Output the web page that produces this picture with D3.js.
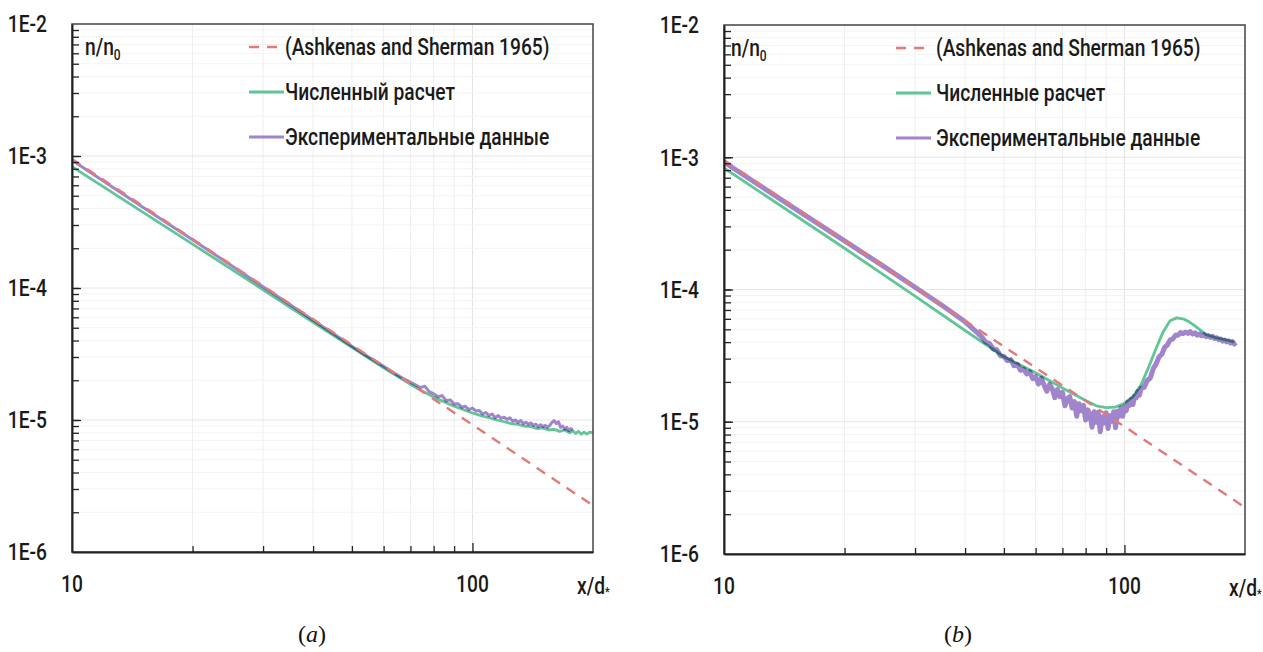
<!DOCTYPE html>
<html>
<head>
<meta charset="utf-8">
<script src="https://cdn.jsdelivr.net/npm/d3@7"></script>
<style>
  body { margin: 0; background: #fff; }
  svg { display: block; }
</style>
</head>
<body>
<svg id="vis_svg" width="1263" height="652"></svg>
<script>
// tick labels
const x_tick_values = [10, 100];
const x_tick_labels = ['10', '100'];
const y_tick_values = [1e-2, 1e-3, 1e-4, 1e-5, 1e-6];
const y_tick_labels = ['1E-2', '1E-3', '1E-4', '1E-5', '1E-6'];

// legends
const legend_a = ['(Ashkenas and Sherman 1965)', 'Численный расчет', 'Экспериментальные данные'];
const legend_b = ['(Ashkenas and Sherman 1965)', 'Численные расчет', 'Экспериментальные данные'];

// Ashkenas & Sherman curve (same in both panels)
const ash_x = [10, 20, 50, 100, 200];
const ash_y = [9.5e-4, 2.35e-4, 3.7e-5, 9.2e-6, 2.25e-6];

// panel (a) numerical
const num_a_x = [10, 20, 30, 40, 50, 60, 70, 80, 90, 100, 105, 110, 115, 120, 125, 130, 135, 140, 145, 150,
  155, 160, 165, 170, 175, 178, 181, 184, 187, 190, 193, 196, 200];
const num_a_y = [8.3e-4, 2.15e-4, 9.7e-5, 5.5e-5, 3.55e-5, 2.48e-5, 1.86e-5, 1.49e-5, 1.27e-5, 1.13e-5, 1.08e-5,
  1.04e-5, 1.0e-5, 9.7e-6, 9.4e-6, 9.25e-6, 9.0e-6, 8.9e-6, 8.6e-6, 8.7e-6, 8.4e-6, 8.5e-6, 8.2e-6, 8.4e-6,
  8.0e-6, 8.3e-6, 7.9e-6, 8.2e-6, 7.8e-6, 8.1e-6, 7.8e-6, 8.1e-6, 8.0e-6];

// panel (a) experiment
const exp_a_x = [10, 15, 20, 25, 30, 35, 40, 45, 50, 55, 60, 64, 68, 72, 74, 76, 78, 80, 82, 84, 86, 88, 90,
  92, 94, 96, 98, 100, 102, 104, 106, 108, 110, 112, 114, 116, 118, 120, 122, 124, 126, 128, 130, 132, 134,
  136, 138, 140, 142, 144, 146, 148, 150, 152, 154, 156, 158, 160, 162, 164, 166, 168, 170, 172, 174, 176, 178];
const exp_a_y = [9.3e-4, 4.1e-4, 2.32e-4, 1.48e-4, 1.02e-4, 7.5e-5, 5.7e-5, 4.5e-5, 3.62e-5, 3.0e-5, 2.55e-5,
  2.25e-5, 2.02e-5, 1.85e-5, 1.76e-5, 1.80e-5, 1.64e-5, 1.58e-5, 1.50e-5, 1.53e-5, 1.40e-5, 1.42e-5, 1.32e-5,
  1.33e-5, 1.25e-5, 1.27e-5, 1.20e-5, 1.23e-5, 1.17e-5, 1.18e-5, 1.11e-5, 1.14e-5, 1.08e-5, 1.11e-5, 1.04e-5,
  1.08e-5, 1.03e-5, 1.05e-5, 1.01e-5, 1.04e-5, 9.8e-6, 1.0e-5, 9.6e-6, 9.9e-6, 9.4e-6, 9.6e-6, 9.3e-6, 9.5e-6,
  9.1e-6, 9.3e-6, 8.9e-6, 9.2e-6, 8.9e-6, 9.1e-6, 8.8e-6, 9.1e-6, 9.6e-6, 9.9e-6, 9.4e-6, 9.7e-6, 8.8e-6,
  9.0e-6, 8.5e-6, 8.8e-6, 8.3e-6, 8.6e-6, 8.4e-6];

// panel (b) numerical
const num_b_x = [10, 20, 30, 40, 50, 60, 70, 80, 85, 90, 95, 100, 105, 110, 115, 120, 125, 130, 135, 140,
  145, 150, 160, 170, 180, 188];
const num_b_y = [8.3e-4, 2.05e-4, 8.9e-5, 4.9e-5, 3.1e-5, 2.35e-5, 1.8e-5, 1.45e-5, 1.32e-5, 1.28e-5, 1.29e-5,
  1.38e-5, 1.55e-5, 1.9e-5, 2.6e-5, 3.6e-5, 4.8e-5, 5.8e-5, 6.1e-5, 6.0e-5, 5.7e-5, 5.3e-5, 4.55e-5, 4.3e-5,
  4.15e-5, 4.0e-5];

// panel (b) experiment
const exp_b_x = [10, 15, 20, 25, 30, 35, 40, 44, 45, 46, 47, 48, 49, 50, 51, 52, 53, 54, 55, 56, 57, 58, 59,
  60, 61, 62, 63, 64, 65, 66, 67, 68, 69, 70, 71, 72, 73, 74, 75, 76, 77, 78, 79, 80, 81, 82, 83, 84, 85, 86,
  87, 88, 89, 90, 91, 92, 93, 94, 95, 96, 97, 98, 99, 100, 101, 102, 103, 104, 105, 106, 107, 108, 109, 110,
  112, 114, 116, 118, 120, 122, 124, 126, 128, 130, 132, 134, 136, 138, 140, 142, 144, 146, 148, 150, 152,
  154, 156, 158, 160, 162, 164, 166, 168, 170, 172, 174, 176, 178, 180, 182, 184, 186, 188, 190];
const exp_b_y = [9.2e-4, 4.1e-4, 2.33e-4, 1.5e-4, 1.04e-4, 7.6e-5, 5.7e-5, 4.4e-5, 4.0e-5, 3.92e-5, 3.55e-5,
  3.5e-5, 3.15e-5, 3.12e-5, 2.9e-5, 2.95e-5, 2.65e-5, 2.72e-5, 2.45e-5, 2.5e-5, 2.3e-5, 2.38e-5, 2.12e-5,
  2.19e-5, 1.93e-5, 2.13e-5, 1.89e-5, 1.70e-5, 1.92e-5, 1.78e-5, 1.52e-5, 1.75e-5, 1.55e-5, 1.67e-5, 1.32e-5,
  1.49e-5, 1.55e-5, 1.27e-5, 1.42e-5, 1.10e-5, 1.37e-5, 1.21e-5, 1.33e-5, 1.03e-5, 1.23e-5, 1.13e-5, 9.1e-6,
  1.19e-5, 9.9e-6, 1.18e-5, 8.4e-6, 1.09e-5, 9.8e-6, 1.17e-5, 8.9e-6, 1.11e-5, 1.01e-5, 1.19e-5, 9.0e-6,
  1.20e-5, 1.10e-5, 1.27e-5, 1.10e-5, 1.30e-5, 1.21e-5, 1.41e-5, 1.33e-5, 1.48e-5, 1.35e-5, 1.56e-5, 1.52e-5,
  1.69e-5, 1.59e-5, 1.79e-5,
  1.82e-5, 2.05e-5, 2.14e-5, 2.52e-5, 2.74e-5, 3.1e-5, 3.24e-5, 3.66e-5, 3.8e-5, 4.16e-5, 4.22e-5, 4.5e-5,
  4.5e-5, 4.72e-5, 4.64e-5, 4.76e-5, 4.66e-5, 4.8e-5, 4.6e-5, 4.7e-5, 4.52e-5, 4.6e-5, 4.47e-5, 4.56e-5,
  4.4e-5, 4.48e-5, 4.34e-5, 4.43e-5, 4.26e-5, 4.32e-5, 4.17e-5, 4.23e-5, 4.07e-5, 4.15e-5, 4.02e-5, 4.09e-5,
  3.94e-5, 4.04e-5, 3.87e-5, 3.97e-5];

const COLOR_ASH = '#e27a7a';
const COLOR_NUM = '#62c596';
const COLOR_EXP = '#a084cc';
const FONT = 'Roboto, "Noto Sans", sans-serif';
const SQUEEZE = 0.8;

const svg = d3.select('#vis_svg');

/**
 * Text in a condensed look: plain font squeezed horizontally.
 */
const label = (sel, x, y, str, size, anchor) =>
  sel.append('text')
    .attr('transform', `translate(${x},${y}) scale(${SQUEEZE},1)`)
    .attr('text-anchor', anchor || 'start')
    .attr('dy', '0.35em')
    .style('font-family', FONT)
    .style('font-size', size + 'px')
    .style('font-weight', 500)
    .style('fill', '#1a1a1a')
    .text(str);

const draw_panel = (cfg) => {
  const g = svg.append('g');

  const xScale = d3.scaleLog().domain([10, 200]).range([cfg.left, cfg.right]);
  const yScale = d3.scaleLog().domain([1e-6, 1e-2]).range([cfg.bottom, cfg.top]);

  const xMinor = xScale.ticks().filter((v) => v > 10 && v < 200);
  const yMinor = yScale.ticks().filter((v) => v > 1e-6 && v < 1e-2);

  // grid
  g.append('g').selectAll('line').data(xMinor).enter().append('line')
    .attr('x1', (d) => xScale(d)).attr('x2', (d) => xScale(d))
    .attr('y1', cfg.top).attr('y2', cfg.bottom)
    .attr('stroke', (d) => (d === 100 ? '#e2e2e2' : '#eeeeee'));
  g.append('g').selectAll('line').data(yMinor).enter().append('line')
    .attr('x1', cfg.left).attr('x2', cfg.right)
    .attr('y1', (d) => yScale(d)).attr('y2', (d) => yScale(d))
    .attr('stroke', (d) => (y_tick_values.includes(d) ? '#e6e6e6' : '#f3f3f3'));

  // clip
  const clipId = 'clip_' + cfg.id;
  svg.append('clipPath').attr('id', clipId).append('rect')
    .attr('x', cfg.left).attr('y', cfg.top)
    .attr('width', cfg.right - cfg.left).attr('height', cfg.bottom - cfg.top);

  const line = d3.line().x((d) => xScale(d[0])).y((d) => yScale(d[1]));
  const plot = g.append('g').attr('clip-path', `url(#${clipId})`);

  plot.append('path').datum(d3.zip(cfg.num_x, cfg.num_y))
    .attr('d', line).attr('fill', 'none')
    .attr('stroke', COLOR_NUM).attr('stroke-width', 2.8)
    .attr('stroke-linejoin', 'round');
  plot.append('path').datum(d3.zip(cfg.exp_x, cfg.exp_y))
    .attr('d', line).attr('fill', 'none')
    .attr('stroke', COLOR_EXP).attr('stroke-width', cfg.exp_width)
    .attr('stroke-linejoin', 'round')
    .style('mix-blend-mode', 'multiply');
  plot.append('path').datum(d3.zip(ash_x, ash_y))
    .attr('d', line).attr('fill', 'none')
    .attr('stroke', COLOR_ASH).attr('stroke-width', 2.4)
    .attr('stroke-dasharray', '10,8');

  // frame
  g.append('rect')
    .attr('x', cfg.left).attr('y', cfg.top)
    .attr('width', cfg.right - cfg.left).attr('height', cfg.bottom - cfg.top)
    .attr('fill', 'none').attr('stroke', '#444').attr('stroke-width', 1.5);

  // y axis, ticks pointing inside
  const yAxis = g.append('g').attr('transform', `translate(${cfg.left},0)`)
    .call(d3.axisLeft(yScale).tickValues(yMinor).tickSizeInner(-7).tickSizeOuter(0).tickFormat(''));
  g.append('g').attr('transform', `translate(${cfg.left},0)`)
    .call(d3.axisLeft(yScale).tickValues(y_tick_values.slice(1, 4)).tickSizeInner(-9).tickSizeOuter(0).tickFormat(''))
    .select('.domain').remove();

  // x axis, ticks pointing up
  const xAxis = g.append('g').attr('transform', `translate(0,${cfg.bottom})`)
    .call(d3.axisBottom(xScale).tickValues(xMinor.filter((v) => v !== 100)).tickSizeInner(-6).tickSizeOuter(0).tickFormat(''));
  g.append('g').attr('transform', `translate(0,${cfg.bottom})`)
    .call(d3.axisBottom(xScale).tickValues([100]).tickSizeInner(-9).tickSizeOuter(0).tickFormat(''))
    .select('.domain').remove();

  [yAxis, xAxis].forEach((a) => a.select('.domain').attr('stroke', '#222').attr('stroke-width', 2));
  g.selectAll('.tick line').attr('stroke', '#222').attr('stroke-width', 1.3);

  // tick labels
  y_tick_values.forEach((v, i) => label(g, cfg.left - 25, yScale(v), y_tick_labels[i], 24, 'end'));
  x_tick_values.forEach((v, i) => label(g, xScale(v), cfg.bottom + 32, x_tick_labels[i], 24, 'middle'));

  // x/d* label
  const xl = label(g, cfg.right - 16, cfg.bottom + 34, 'x/d', 24, 'start');
  xl.append('tspan').attr('dy', '2').style('font-size', '13px').text('*');

  // n/n0 label
  const yl = label(g, cfg.left + cfg.title_dx, cfg.top + 23, 'n/n', 24, 'start');
  yl.append('tspan').attr('dy', '5').style('font-size', '15px').text('0');

  // legend
  const lx = cfg.left + cfg.leg_dx;
  const rows = [23, 68, 113].map((d) => cfg.top + d);
  g.append('line').attr('x1', lx).attr('x2', lx + 28).attr('y1', rows[0]).attr('y2', rows[0])
    .attr('stroke', COLOR_ASH).attr('stroke-width', 2.4).attr('stroke-dasharray', '10,8');
  g.append('line').attr('x1', lx).attr('x2', lx + 35).attr('y1', rows[1]).attr('y2', rows[1])
    .attr('stroke', COLOR_NUM).attr('stroke-width', 2.8);
  g.append('line').attr('x1', lx).attr('x2', lx + 35).attr('y1', rows[2]).attr('y2', rows[2])
    .attr('stroke', COLOR_EXP).attr('stroke-width', 3);
  cfg.legend.forEach((t, i) => label(g, cfg.left + cfg.text_dx, rows[i], t, 24, 'start'));

  // caption
  const cap = g.append('text')
    .attr('x', cfg.caption_x).attr('y', 642)
    .attr('text-anchor', 'middle')
    .style('font-family', '"Liberation Serif", "DejaVu Serif", serif')
    .style('font-size', '24px')
    .style('fill', '#111');
  cap.append('tspan').text('(');
  cap.append('tspan').style('font-style', 'italic').text(cfg.caption);
  cap.append('tspan').text(')');
};

draw_panel({
  id: 'a', left: 72, right: 593, top: 24, bottom: 552,
  num_x: num_a_x, num_y: num_a_y, exp_x: exp_a_x, exp_y: exp_a_y, exp_width: 3,
  legend: legend_a, title_dx: 13, leg_dx: 177, text_dx: 213,
  caption: 'a', caption_x: 312,
});

draw_panel({
  id: 'b', left: 724, right: 1245, top: 25, bottom: 554,
  num_x: num_b_x, num_y: num_b_y, exp_x: exp_b_x, exp_y: exp_b_y, exp_width: 5,
  legend: legend_b, title_dx: 7, leg_dx: 172, text_dx: 212,
  caption: 'b', caption_x: 958,
});
</script>
</body>
</html>
